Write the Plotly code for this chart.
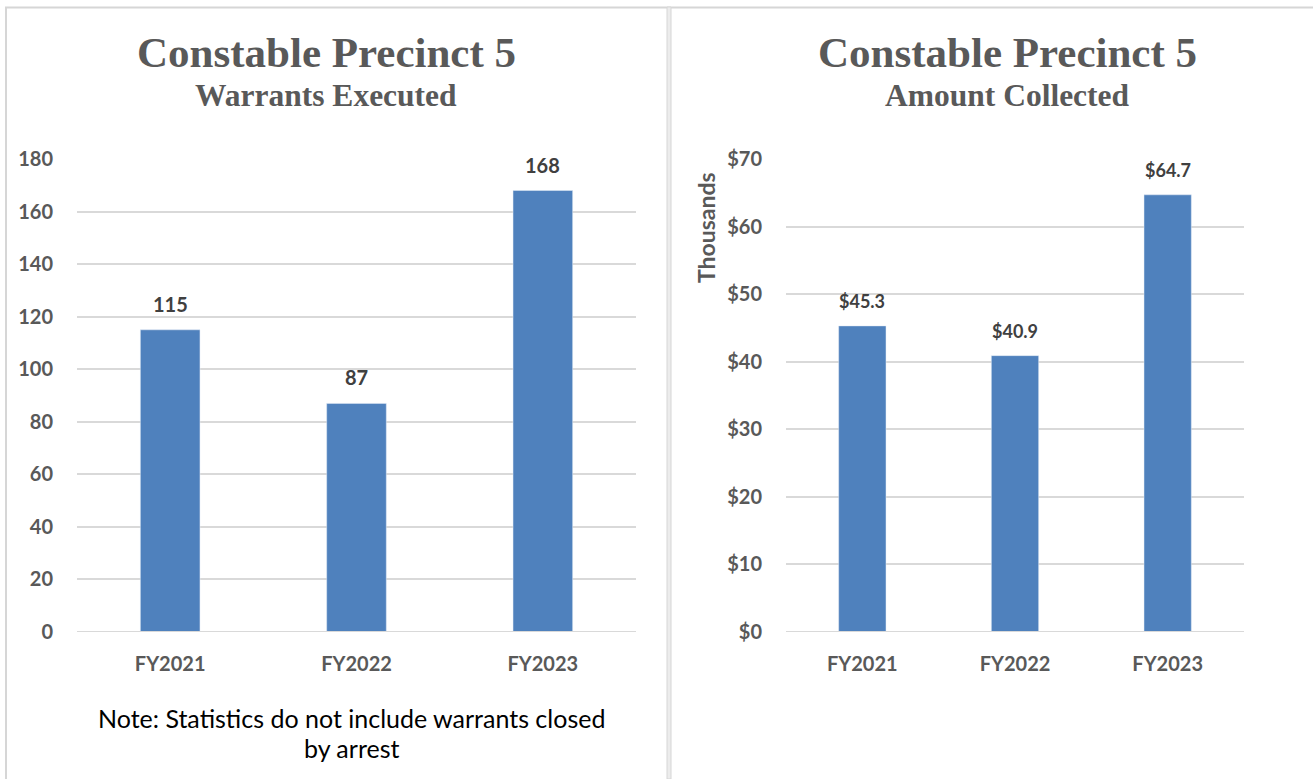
import plotly.graph_objects as go

W, H = 1313, 779

categories = ["FY2021", "FY2022", "FY2023"]
warrants = [115, 87, 168]
amount_thousands = [45.3, 40.9, 64.7]
warrant_ticks = [0, 20, 40, 60, 80, 100, 120, 140, 160, 180]
amount_ticks = [0, 10, 20, 30, 40, 50, 60, 70]
note_lines = ["Note: Statistics do not include warrants closed", "by arrest"]

BAR = "#4F81BD"
GRID = "#D9D9D9"
TICK = "#595959"
LBL = "#404040"
FONT = "Lato"
SERIF = "Liberation Serif"


def px(x):
    return x / W


def py(y):
    return 1 - y / H


fig = go.Figure()
fig.add_trace(go.Bar(x=categories, y=warrants, marker_color=BAR, width=0.32,
                     xaxis="x", yaxis="y", hoverinfo="x+y"))
fig.add_trace(go.Bar(x=categories, y=amount_thousands, marker_color=BAR, width=0.31,
                     xaxis="x2", yaxis="y2", hoverinfo="x+y"))

ydom = [py(632), py(159)]
tickfont = dict(family=FONT, size=20, color=TICK, weight="bold")
axis_common = dict(showline=False, zeroline=False, fixedrange=True, automargin=False)
fig.update_layout(
    width=W, height=H,
    margin=dict(l=0, r=0, t=0, b=0, pad=0, autoexpand=False),
    paper_bgcolor="white", plot_bgcolor="white",
    showlegend=False,
    xaxis=dict(domain=[px(77), px(636)], anchor="y", showgrid=False,
               tickfont=tickfont, ticklabelstandoff=18, **axis_common),
    yaxis=dict(domain=ydom, anchor="x", range=[0, 180], tickvals=warrant_ticks,
               ticktext=[str(v) for v in warrant_ticks],
               showgrid=True, gridcolor=GRID, gridwidth=1.5,
               tickfont=tickfont, ticklabelstandoff=23, **axis_common),
    xaxis2=dict(domain=[px(786), px(1244)], anchor="y2", showgrid=False,
                tickfont=tickfont, ticklabelstandoff=18, **axis_common),
    yaxis2=dict(domain=ydom, anchor="x2", range=[0, 70], tickvals=amount_ticks,
                ticktext=[f"${v}" for v in amount_ticks],
                showgrid=True, gridcolor=GRID, gridwidth=1.5,
                tickfont=tickfont, ticklabelstandoff=23, **axis_common),
)

fig.add_shape(type="line", xref="x domain", yref="y", x0=0, x1=1, y0=0, y1=0,
              line=dict(color=GRID, width=2))
fig.add_shape(type="line", xref="x2 domain", yref="y2", x0=0, x1=1, y0=0, y1=0,
              line=dict(color=GRID, width=2))

annotations = []
for c, v in zip(categories, warrants):
    annotations.append(dict(x=c, y=v, xref="x", yref="y", text=f"{v}", showarrow=False,
                            yanchor="bottom", yshift=12,
                            font=dict(family=FONT, size=20, color=LBL, weight="bold")))
for c, v in zip(categories, amount_thousands):
    annotations.append(dict(x=c, y=v, xref="x2", yref="y2", text=f"${v:.1f}", showarrow=False,
                            yanchor="bottom", yshift=12,
                            font=dict(family=FONT, size=18, color=LBL, weight="bold")))

for cx, sub in [(326, "Warrants Executed"), (1007, "Amount Collected")]:
    annotations.append(dict(x=px(cx), y=py(52), xref="paper", yref="paper",
                            text="Constable Precinct 5", showarrow=False,
                            xanchor="center", yanchor="middle",
                            font=dict(family=SERIF, size=43, color=TICK, weight="bold")))
    annotations.append(dict(x=px(cx), y=py(95), xref="paper", yref="paper",
                            text=sub, showarrow=False, xanchor="center", yanchor="middle",
                            font=dict(family=SERIF, size=31.5, color=TICK, weight="bold")))

annotations.append(dict(x=px(706), y=py(228), xref="paper", yref="paper", text="<b>Thousands</b>",
                        showarrow=False, textangle=-90, xanchor="center", yanchor="middle",
                        font=dict(family=FONT, size=23, color=TICK, weight="bold")))

for line, yc in zip(note_lines, [718, 748]):
    annotations.append(dict(x=px(351), y=py(yc), xref="paper", yref="paper",
                            text=line, showarrow=False, xanchor="center", yanchor="middle",
                            font=dict(family=FONT, size=25, color="black")))
fig.update_layout(annotations=annotations)

BORDER = "#D6D6D6"
shapes = [
    dict(type="line", xref="paper", yref="paper", x0=px(5), x1=1, y0=py(7.5), y1=py(7.5),
         line=dict(color=BORDER, width=2)),
    dict(type="line", xref="paper", yref="paper", x0=px(6), x1=px(6), y0=py(7), y1=0,
         line=dict(color=BORDER, width=2)),
    dict(type="rect", xref="paper", yref="paper", x0=px(667), x1=px(671), y0=py(7), y1=0,
         fillcolor="#ECECEC", line=dict(color=BORDER, width=1)),
]
for s in shapes:
    fig.add_shape(**s)

post = ("var gd=document.getElementById('{plot_id}');"
        "gd.style.position='fixed';gd.style.left='0px';gd.style.top='0px';"
        "document.body.style.margin='0';"
        "document.documentElement.style.overflow='hidden';")

fig.write_html("out.html", post_script=post, config={"displayModeBar": False})
